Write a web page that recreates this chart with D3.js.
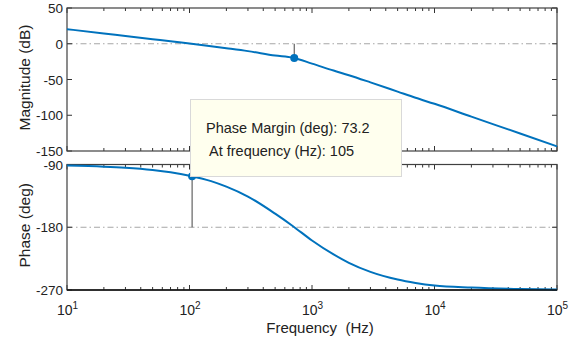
<!DOCTYPE html>
<html>
<head>
<meta charset="utf-8">
<script src="https://cdn.jsdelivr.net/npm/d3@7"></script>
<style>
  body { margin: 0; background: #fff; }
  text { font-family: "Liberation Sans", Arial, sans-serif; fill: #222; }
</style>
</head>
<body>
<div id="chart"></div>
<script>
var svgWidth = 584;
var svgHeight = 345;

// values
var freq = [10, 20, 30, 50, 70, 100, 150, 200, 300, 500, 700, 1000, 1500, 2000, 3000, 5000, 7000, 10000, 20000, 50000, 100000];
var magDb = [20.4, 14.4, 10.9, 6.4, 3.4, 0.3, -3.4, -6.2, -10.3, -16.4, -19.6, -27.8, -37.5, -44.0, -54.0, -67.0, -75.6, -84.0, -102.0, -125.5, -143.5];
var phaseDeg = [-91.6, -93.2, -94.8, -98.0, -101.2, -106.0, -113.8, -121.8, -136.0, -160.5, -178.5, -199.0, -219.0, -231.0, -244.0, -255.0, -259.8, -263.5, -266.5, -268.6, -269.3];

var magTicks = [50, 0, -50, -100, -150];
var phaseTicks = [-90, -180, -270];
var decades = [10, 100, 1000, 10000, 100000];

var pm = { freq: 105, phase: -106.8 };
var gm = { freq: 716, mag: -20.1 };
var tipLines = ["Phase Margin (deg): 73.2", "At frequency (Hz): 105"];

var blue = "#0072BD";

var svg = d3.select("#chart").append("svg")
  .attr("width", svgWidth)
  .attr("height", svgHeight);

var x = d3.scaleLog().domain([10, 100000]).range([67, 557]);
var yMag = d3.scaleLinear().domain([-150, 50]).range([151, 8]);
var yPh = d3.scaleLinear().domain([-270, -90]).range([290, 164.5]);

// minor ticks 2..9 of every decade
var minor = [];
decades.slice(0, 4).forEach(function(d) {
  for (var k = 2; k <= 9; k++) minor.push(d * k);
});

function drawPanel(yScale, yTicks, refValue, title, values) {
  var g = svg.append("g");
  var top = yScale.range()[1], bottom = yScale.range()[0];

  // reference dash-dot line
  g.append("line")
    .attr("x1", x.range()[0]).attr("x2", x.range()[1])
    .attr("y1", yScale(refValue)).attr("y2", yScale(refValue))
    .attr("stroke", "#a6a6a6")
    .attr("stroke-dasharray", "6,3,1.5,3");

  // ticks inside, on all four sides
  var ticks = g.append("g").attr("stroke", "#333").attr("stroke-width", 1);
  decades.forEach(function(d) {
    ticks.append("line").attr("x1", x(d)).attr("x2", x(d)).attr("y1", bottom).attr("y2", bottom - 5);
    ticks.append("line").attr("x1", x(d)).attr("x2", x(d)).attr("y1", top).attr("y2", top + 5);
  });
  minor.forEach(function(d) {
    ticks.append("line").attr("x1", x(d)).attr("x2", x(d)).attr("y1", bottom).attr("y2", bottom - 3);
    ticks.append("line").attr("x1", x(d)).attr("x2", x(d)).attr("y1", top).attr("y2", top + 3);
  });
  yTicks.forEach(function(v) {
    ticks.append("line").attr("x1", x.range()[0]).attr("x2", x.range()[0] + 5).attr("y1", yScale(v)).attr("y2", yScale(v));
    ticks.append("line").attr("x1", x.range()[1]).attr("x2", x.range()[1] - 5).attr("y1", yScale(v)).attr("y2", yScale(v));
  });

  // box
  g.append("rect")
    .attr("x", x.range()[0]).attr("y", top)
    .attr("width", x.range()[1] - x.range()[0]).attr("height", bottom - top)
    .attr("fill", "none").attr("stroke", "#404040").attr("stroke-width", 1.2);

  // y tick labels
  g.selectAll(".ylab").data(yTicks).enter().append("text")
    .attr("x", x.range()[0] - 4)
    .attr("y", function(d) { return yScale(d) + 5; })
    .attr("text-anchor", "end")
    .attr("font-size", 13.5)
    .text(function(d) { return d; });

  // axis title
  g.append("text")
    .attr("transform", "translate(30," + ((top + bottom) / 2 - 2) + ") rotate(-90)")
    .attr("text-anchor", "middle")
    .attr("font-size", 15.5)
    .text(title);

  // curve
  var line = d3.line()
    .x(function(d, i) { return x(freq[i]); })
    .y(function(d) { return yScale(d); })
    .curve(d3.curveMonotoneX);
  g.append("path")
    .datum(values)
    .attr("d", line)
    .attr("fill", "none")
    .attr("stroke", blue)
    .attr("stroke-width", 2);

  return g;
}

var magPanel = drawPanel(yMag, magTicks, 0, "Magnitude (dB)", magDb);
var phPanel = drawPanel(yPh, phaseTicks, -180, "Phase (deg)", phaseDeg);

// bottom axis line darker
svg.append("line")
  .attr("x1", x.range()[0]).attr("x2", x.range()[1])
  .attr("y1", yPh.range()[0]).attr("y2", yPh.range()[0])
  .attr("stroke", "#111").attr("stroke-width", 1.5);

// gain margin marker
magPanel.append("line")
  .attr("x1", x(gm.freq)).attr("x2", x(gm.freq))
  .attr("y1", yMag(0)).attr("y2", yMag(gm.mag))
  .attr("stroke", "#444");
magPanel.append("circle")
  .attr("cx", x(gm.freq)).attr("cy", yMag(gm.mag))
  .attr("r", 4).attr("fill", blue);

// phase margin marker
phPanel.append("line")
  .attr("x1", x(pm.freq)).attr("x2", x(pm.freq))
  .attr("y1", yPh(pm.phase)).attr("y2", yPh(-180))
  .attr("stroke", "#444");
phPanel.append("circle")
  .attr("cx", x(pm.freq)).attr("cy", yPh(pm.phase))
  .attr("r", 4).attr("fill", blue);

// x tick labels with superscripts
var xl = svg.append("g");
decades.forEach(function(d) {
  var t = xl.append("text")
    .attr("x", x(d) - 10)
    .attr("y", 315)
    .attr("font-size", 14);
  t.append("tspan").text("10");
  t.append("tspan").attr("dy", -6).attr("font-size", 10).text(Math.round(Math.log10(d)));
});

svg.append("text")
  .attr("x", 320)
  .attr("y", 333)
  .attr("text-anchor", "middle")
  .attr("font-size", 15)
  .attr("xml:space", "preserve")
  .text("Frequency  (Hz)");

// data tip box
var tip = svg.append("g");
tip.append("rect")
  .attr("x", 190.5).attr("y", 99.5)
  .attr("width", 211).attr("height", 77)
  .attr("fill", "#ffffee")
  .attr("stroke", "#d9d9d9");
tip.selectAll("text").data(tipLines).enter().append("text")
  .attr("x", function(d, i) { return i === 0 ? 206 : 209; })
  .attr("y", function(d, i) { return 133 + i * 23; })
  .attr("font-size", 14.5)
  .text(function(d) { return d; });
</script>
</body>
</html>
